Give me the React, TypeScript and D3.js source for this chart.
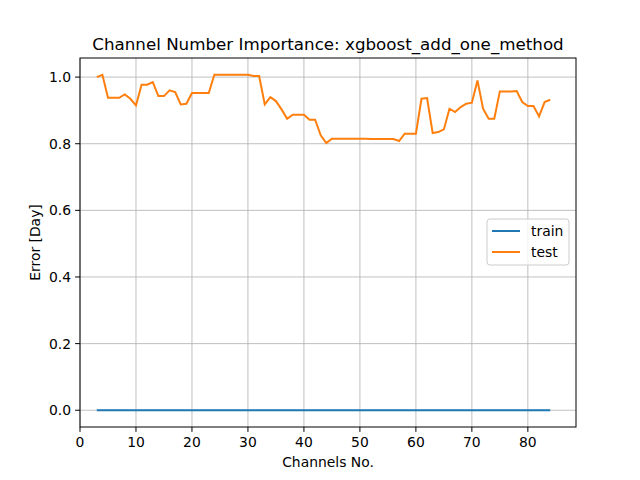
import React from "react";
import * as d3 from "d3";

const channels: number[] = d3.range(3, 85);
const testErr: number[] = [1.0, 1.007, 0.938, 0.938, 0.938, 0.948, 0.935, 0.915, 0.977, 0.977, 0.985, 0.943, 0.943, 0.96, 0.955, 0.918, 0.92, 0.952, 0.952, 0.952, 0.952, 1.007, 1.007, 1.007, 1.007, 1.007, 1.007, 1.007, 1.003, 1.003, 0.918, 0.94, 0.928, 0.903, 0.875, 0.887, 0.887, 0.887, 0.872, 0.872, 0.825, 0.802, 0.815, 0.815, 0.815, 0.815, 0.815, 0.815, 0.815, 0.814, 0.814, 0.814, 0.814, 0.814, 0.808, 0.83, 0.83, 0.83, 0.935, 0.937, 0.832, 0.835, 0.843, 0.905, 0.895, 0.91, 0.92, 0.923, 0.99, 0.905, 0.875, 0.875, 0.957, 0.957, 0.957, 0.958, 0.925, 0.913, 0.913, 0.882, 0.925, 0.932];
const trainErr: number[] = channels.map(() => 0);
const xTicks = [0, 10, 20, 30, 40, 50, 60, 70, 80];
const yTicks = [0, 0.2, 0.4, 0.6, 0.8, 1.0];

export default function App() {
  const L = 80, R = 576, T = 58, B = 427;
  const x = d3.scaleLinear().domain([0, 88.6]).range([L, R]);
  const y = d3.scaleLinear().domain([-0.0503, 1.0573]).range([B, T]);
  const line = d3.line<number>().x((_, i) => x(channels[i])).y(d => y(d));
  const font = "DejaVu Sans";
  const fs = 13.9;
  return (
    <svg width={640} height={480} style={{ position: "absolute", left: 0, top: 0 }} fontFamily={font}>
      <rect width={640} height={480} fill="#fff" />
      {xTicks.map(t => <line key={"gx" + t} x1={x(t)} x2={x(t)} y1={T} y2={B} stroke="#b0b0b0" strokeWidth={0.8} />)}
      {yTicks.map(t => <line key={"gy" + t} x1={L} x2={R} y1={y(t)} y2={y(t)} stroke="#b0b0b0" strokeWidth={0.8} />)}
      <path d={line(trainErr) || ""} fill="none" stroke="#1f77b4" strokeWidth={2} />
      <path d={line(testErr) || ""} fill="none" stroke="#ff7f0e" strokeWidth={2} />
      <rect x={L} y={T} width={R - L} height={B - T} fill="none" stroke="#000" strokeWidth={1} />
      {xTicks.map(t => (
        <g key={"tx" + t}>
          <line x1={x(t)} x2={x(t)} y1={B} y2={B + 4.9} stroke="#000" strokeWidth={1} />
          <text x={x(t)} y={B + 20} fontSize={fs} textAnchor="middle">{t}</text>
        </g>
      ))}
      {yTicks.map(t => (
        <g key={"ty" + t}>
          <line x1={L - 4.9} x2={L} y1={y(t)} y2={y(t)} stroke="#000" strokeWidth={1} />
          <text x={L - 9} y={y(t) + 5} fontSize={fs} textAnchor="end">{t.toFixed(1)}</text>
        </g>
      ))}
      <text x={(L + R) / 2} y={467} fontSize={fs} textAnchor="middle">Channels No.</text>
      <text transform={`translate(40,${(T + B) / 2}) rotate(-90)`} fontSize={fs} textAnchor="middle">Error [Day]</text>
      <text x={(L + R) / 2} y={50} fontSize={16.7} textAnchor="middle">Channel Number Importance: xgboost_add_one_method</text>
      <g>
        <rect x={487} y={219} width={82} height={46} fill="#fff" fillOpacity={0.8} stroke="#ccc" strokeWidth={1} rx={3} />
        <line x1={492} x2={520} y1={231} y2={231} stroke="#1f77b4" strokeWidth={2} />
        <text x={531} y={236} fontSize={fs}>train</text>
        <line x1={492} x2={520} y1={252} y2={252} stroke="#ff7f0e" strokeWidth={2} />
        <text x={531} y={257} fontSize={fs}>test</text>
      </g>
    </svg>
  );
}
